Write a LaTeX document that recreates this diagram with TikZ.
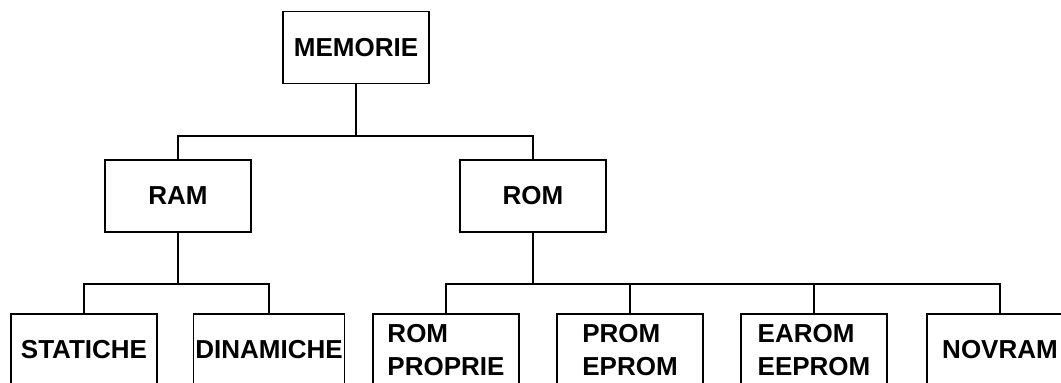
\documentclass[tikz,border=0pt]{standalone}
\usepackage{fontspec}
\setmainfont{Liberation Sans}
\begin{document}
\begin{tikzpicture}[x=1pt,y=-1pt]
  \useasboundingbox (0,0) rectangle (1061,383);
  \clip (0,0) rectangle (1061,383);
  \begin{scope}[every node/.style={draw=black, line width=1.6pt, rectangle, minimum width=146pt, minimum height=72pt, inner sep=2pt, align=left, font=\fontsize{26}{33}\selectfont\bfseries}]
    \node (mem)   at (356  ,47.5) {MEMORIE};
    \node (ram)   at (178  ,196)  {RAM};
    \node (rom)   at (533  ,196)  {ROM};
    \node (stat)  at (84   ,350)  {STATICHE};
    \node (din)   at (269  ,350)  {DINAMICHE};
    \node (rompr) at (446  ,350)  {ROM\\PROPRIE};
    \node (prom)  at (630  ,350)  {PROM\\EPROM};
    \node (earom) at (814  ,350)  {EAROM\\EEPROM};
    \node (nov)   at (1000 ,350)  {NOVRAM};
  \end{scope}
  \coordinate (top) at (0,136);
  \coordinate (low) at (0,284);
  \begin{scope}[every path/.style={draw=black, line width=1.6pt}]
    \path (mem.south) |- (top -| ram.north) -- (ram.north);
    \path (mem.south) |- (top -| rom.north) -- (rom.north);
    \path (ram.south) |- (low -| stat.north) -- (stat.north);
    \path (ram.south) |- (low -| din.north) -- (din.north);
    \path (rom.south) |- (low -| rompr.north) -- (rompr.north);
    \path (rom.south) |- (low -| prom.north) -- (prom.north);
    \path (rom.south) |- (low -| earom.north) -- (earom.north);
    \path (rom.south) |- (low -| nov.north) -- (nov.north);
  \end{scope}
\end{tikzpicture}
\end{document}
